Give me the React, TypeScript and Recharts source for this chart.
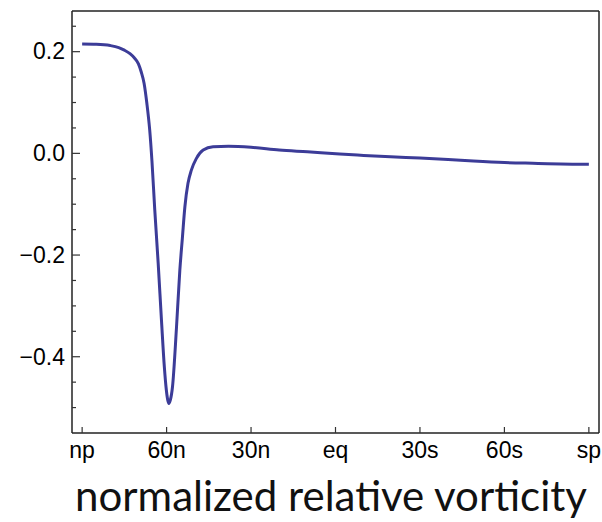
import { LineChart, Line, XAxis, YAxis, ReferenceLine } from 'recharts';

// distance from north pole in degrees (0 = np, 180 = sp)
const colat = [
  0, 5, 10, 13, 15, 17, 18.5, 20, 21, 22, 23, 24, 24.8, 25.8, 27, 28.2, 29.2, 29.9, 30.4,
  30.8, 31.3, 32.1, 33.5, 34.7, 35.6, 36.5, 37.6, 38.8, 40.6, 43, 46.5, 52, 60, 70, 80,
  91.5, 100, 115, 130, 139, 150, 162, 170, 180,
];
const vorticity = [
  0.215, 0.2145, 0.212, 0.208, 0.203, 0.196, 0.188, 0.176, 0.16, 0.138, 0.098, 0.046,
  -0.015, -0.111, -0.215, -0.33, -0.42, -0.465, -0.485, -0.492, -0.486, -0.459, -0.344,
  -0.23, -0.167, -0.105, -0.059, -0.033, -0.0098, 0.0065, 0.013, 0.014, 0.012, 0.0065,
  0.003, -0.0014, -0.004, -0.008, -0.012, -0.015, -0.018, -0.0197, -0.021, -0.0216,
];

const xTicks = [0, 30, 60, 90, 120, 150, 180];
const xTickLabels = ['np', '60n', '30n', 'eq', '30s', '60s', 'sp'];
const yTicks = [
  -0.5, -0.45, -0.4, -0.35, -0.3, -0.25, -0.2, -0.15, -0.1, -0.05, 0, 0.05, 0.1, 0.15,
  0.2, 0.25,
];

const data = colat.map((d, i) => ({ d, v: vorticity[i] }));

const X_DOMAIN: [number, number] = [-3.6, 183.6];
const Y_DOMAIN: [number, number] = [-0.55, 0.28];
const tickFont = '"Liberation Sans", Arial, sans-serif';

function YTick(props: any) {
  const { x, y, payload } = props;
  const v = payload.value as number;
  const major = Math.abs(Math.round(v * 100)) % 20 === 0;
  const label = (v < 0 ? '\u2212' : '') + Math.abs(v).toFixed(1);
  return (
    <g>
      <line x1={x} y1={y} x2={x + (major ? 8 : 4)} y2={y} stroke="#333" strokeWidth={1.2} />
      {major && (
        <text x={x - 7} y={y} dy="0.34em" textAnchor="end" fontSize={23} fontFamily={tickFont} fill="#000">
          {label}
        </text>
      )}
    </g>
  );
}

function XTick(props: any) {
  const { x, y, payload } = props;
  const idx = xTicks.indexOf(payload.value);
  return (
    <g>
      <line x1={x} y1={y} x2={x} y2={y - 6} stroke="#333" strokeWidth={1.2} />
      <text x={x} y={y + 25} textAnchor="middle" fontSize={23} fontFamily={tickFont} fill="#000">
        {xTickLabels[idx]}
      </text>
    </g>
  );
}

export default function App() {
  return (
    <div style={{ position: 'absolute', left: 0, top: 0, width: 602, height: 522, background: '#fff' }}>
      <LineChart width={602} height={522} data={data} margin={{ top: 11, right: 3, left: 12, bottom: 59 }}>
        <XAxis
          dataKey="d"
          type="number"
          domain={X_DOMAIN}
          ticks={xTicks}
          tick={<XTick />}
          tickLine={false}
          tickSize={0}
          tickMargin={0}
          height={30}
          stroke="#222"
          strokeWidth={1.5}
          allowDataOverflow
        />
        <YAxis
          type="number"
          domain={Y_DOMAIN}
          ticks={yTicks}
          tick={<YTick />}
          tickLine={false}
          tickSize={0}
          tickMargin={0}
          width={60}
          stroke="#222"
          strokeWidth={1.5}
          allowDataOverflow
          interval={0}
        />
        <ReferenceLine y={Y_DOMAIN[1]} stroke="#222" strokeWidth={1.5} />
        <ReferenceLine x={X_DOMAIN[1]} stroke="#222" strokeWidth={1.5} />
        <Line
          dataKey="v"
          type="monotone"
          stroke="#3c3c98"
          strokeWidth={3}
          dot={false}
          isAnimationActive={false}
        />
      </LineChart>
      <div
        style={{
          position: 'absolute',
          left: 0,
          width: 662,
          top: 470,
          textAlign: 'center',
          fontFamily: 'Lato, "Open Sans", sans-serif',
          fontSize: 42,
          lineHeight: '50px',
          color: '#111',
          whiteSpace: 'nowrap',
        }}
      >
        normalized relative vorticity
      </div>
    </div>
  );
}
